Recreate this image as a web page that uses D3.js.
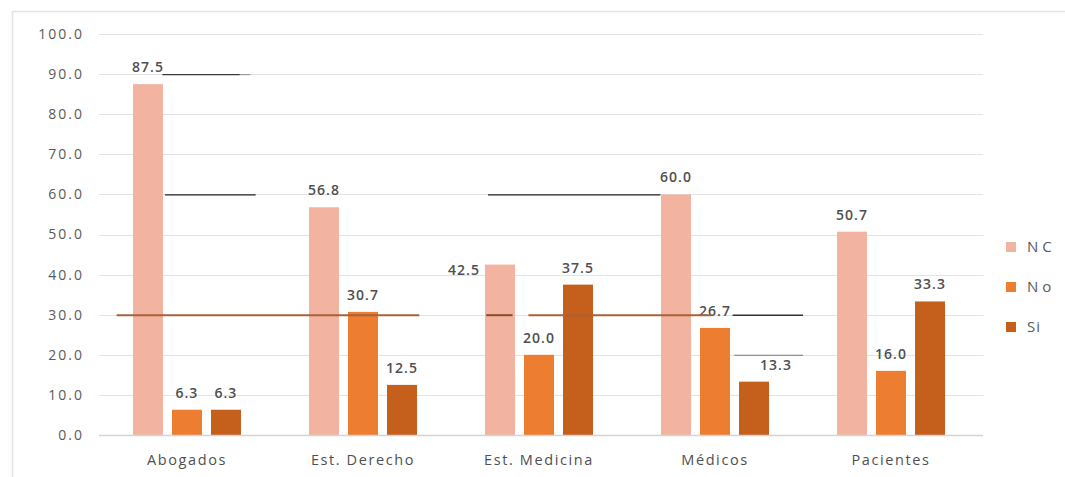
<!DOCTYPE html>
<html>
<head>
<meta charset="utf-8">
<script src="https://cdn.jsdelivr.net/npm/d3@7"></script>
<style>
  html, body { margin: 0; padding: 0; background: #ffffff; }
  svg { display: block; }
  text { font-family: "Open Sans", "DejaVu Sans", sans-serif; }
</style>
</head>
<body>
<svg id="chart" width="1065" height="477"></svg>
<script>
// Response categories and groups
const categories = ["Abogados", "Est. Derecho", "Est. Medicina", "Médicos", "Pacientes"];
const seriesNames = ["NC", "No", "Si"];

// Percentages per group
const valuesNC = [87.5, 56.8, 42.5, 60.0, 50.7];
const valuesNo = [6.3, 30.7, 20.0, 26.7, 16.0];
const valuesSi = [6.3, 12.5, 37.5, 13.3, 33.3];

// Y axis ticks
const yTicks = [0, 10, 20, 30, 40, 50, 60, 70, 80, 90, 100];

const colors = { NC: "#f2b4a0", No: "#ed7d31", Si: "#c55f1c" };

// Label nudges (px) for labels that sit off the bar centre
const labelNudge = {
  "Est. Medicina|NC": { dx: -36, dy: 22 },
  "Médicos|Si": { dx: 22, dy: 0 }
};

// Stray printed rules across the plot, in (category units, y value)
const strayRules = [
  { y: 90, from: 0.36, to: 0.80, color: "#3a3a3a", w: 1.3 },
  { y: 90, from: 0.80, to: 0.86, color: "#9a9a9a", w: 1.2 },
  { y: 60, from: 0.375, to: 0.89, color: "#222222", w: 1.3 },
  { y: 60, from: 2.21, to: 3.19, color: "#222222", w: 1.3 },
  { y: 30, from: 0.10, to: 1.82, color: "#a9613a", w: 2 },
  { y: 30, from: 2.20, to: 2.35, color: "#8d4a26", w: 2 },
  { y: 30, from: 2.44, to: 3.48, color: "#a9613a", w: 2 },
  { y: 30, from: 3.60, to: 4.00, color: "#333333", w: 1.6 },
  { y: 20, from: 3.61, to: 4.00, color: "#777777", w: 1.1 }
];

const table = categories.map((c, i) => ({
  category: c,
  NC: valuesNC[i], No: valuesNo[i], Si: valuesSi[i]
}));

const svg = d3.select("#chart");

// Outer frame
svg.append("rect")
  .attr("x", 12.5).attr("y", 11.5)
  .attr("width", 1070).attr("height", 480)
  .attr("fill", "none").attr("stroke", "#e4e4e4").attr("stroke-width", 1.5);

const plotLeft = 99, plotRight = 979, gridRight = 983;
const y = d3.scaleLinear().domain([0, 100]).range([435, 34]);
const x0 = d3.scaleBand().domain(categories).range([plotLeft, plotRight])
  .paddingInner(68 / 176).paddingOuter(0.193);
const x1 = d3.scaleBand().domain(seriesNames).range([0, x0.bandwidth()])
  .paddingInner(9 / 39).paddingOuter(0);
const xc = d3.scaleLinear().domain([0, categories.length]).range([plotLeft, plotRight]);

// Gridlines
svg.append("g").selectAll("line")
  .data(yTicks.filter(t => t > 0))
  .join("line")
  .attr("x1", plotLeft).attr("x2", gridRight)
  .attr("y1", d => Math.round(y(d)) + 0.5).attr("y2", d => Math.round(y(d)) + 0.5)
  .attr("stroke", "#e3e3e3").attr("stroke-width", 1.2);

// Y axis labels
const yAxis = d3.axisLeft(y).tickValues(yTicks).tickFormat(d3.format(".1f")).tickSize(0).tickPadding(0);
const gy = svg.append("g").attr("transform", "translate(84,0)").call(yAxis);
gy.select(".domain").remove();
gy.selectAll("text")
  .attr("fill", "#5a5a5a").attr("font-size", 14).style("letter-spacing", "2px")
  .attr("font-family", "'Open Sans', sans-serif");

// Bars
const groups = svg.append("g").selectAll("g")
  .data(table).join("g")
  .attr("transform", d => `translate(${x0(d.category)},0)`);

groups.selectAll("rect")
  .data(d => seriesNames.map(s => ({ category: d.category, key: s, value: d[s] })))
  .join("rect")
  .attr("x", d => x1(d.key))
  .attr("width", x1.bandwidth())
  .attr("y", d => y(d.value))
  .attr("height", d => y(0) - y(d.value))
  .attr("fill", d => colors[d.key]);

// Stray rules
svg.append("g").selectAll("line")
  .data(strayRules).join("line")
  .attr("x1", d => xc(d.from)).attr("x2", d => xc(d.to))
  .attr("y1", d => y(d.y) + 0.5).attr("y2", d => y(d.y) + 0.5)
  .attr("stroke", d => d.color).attr("stroke-width", d => d.w);

// Baseline
svg.append("line")
  .attr("x1", plotLeft).attr("x2", gridRight)
  .attr("y1", Math.round(y(0)) + 0.5).attr("y2", Math.round(y(0)) + 0.5)
  .attr("stroke", "#d4d4d4").attr("stroke-width", 1.3);

// Value labels
groups.selectAll("text")
  .data(d => seriesNames.map(s => ({ category: d.category, key: s, value: d[s] })))
  .join("text")
  .attr("x", d => x1(d.key) + x1.bandwidth() / 2 + ((labelNudge[d.category + "|" + d.key] || {}).dx || 0))
  .attr("y", d => y(d.value) - 12 + ((labelNudge[d.category + "|" + d.key] || {}).dy || 0))
  .attr("text-anchor", "middle")
  .attr("font-size", 14)
  .attr("font-weight", 600)
  .attr("fill", "#4f4f4f")
  .style("letter-spacing", "1px")
  .text(d => d3.format(".1f")(d.value));

// Category labels
const xAxis = d3.axisBottom(x0).tickSize(0).tickPadding(0);
const gx = svg.append("g").attr("transform", "translate(0,455)").call(xAxis);
gx.select(".domain").remove();
gx.selectAll("text")
  .attr("fill", "#505050").attr("font-size", 14.5).style("letter-spacing", "1.6px")
  .attr("dy", "0.7em")
  .attr("font-family", "'Open Sans', sans-serif");

// Legend
const legend = svg.append("g").selectAll("g")
  .data(seriesNames).join("g")
  .attr("transform", (d, i) => `translate(1006,${247 + i * 40})`);
legend.append("rect")
  .attr("x", 0).attr("y", -5).attr("width", 10).attr("height", 10)
  .attr("fill", d => colors[d]);
legend.append("text")
  .attr("x", 21).attr("y", 0).attr("dy", "0.36em")
  .attr("font-size", 15).attr("fill", "#5a5a5a")
  .style("letter-spacing", d => d === "Si" ? "1px" : "4px")
  .text(d => d);
</script>
</body>
</html>
